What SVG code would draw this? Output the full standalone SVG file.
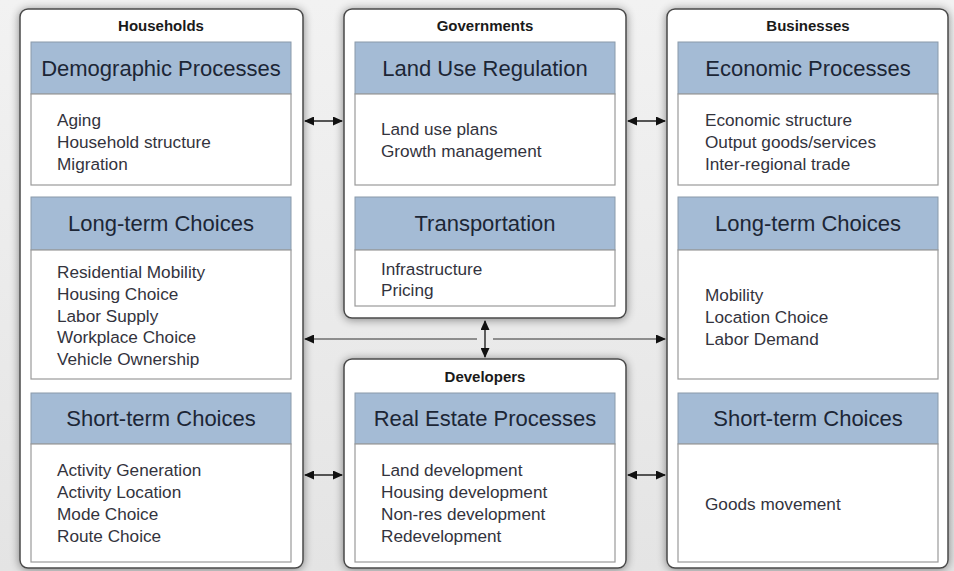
<svg xmlns="http://www.w3.org/2000/svg" width="954" height="571" viewBox="0 0 954 571">
<defs>
<filter id="sh" x="-10%" y="-10%" width="120%" height="120%">
<feGaussianBlur in="SourceAlpha" stdDeviation="5"/>
<feOffset dx="0" dy="1" result="b"/>
<feComponentTransfer><feFuncA type="linear" slope="0.45"/></feComponentTransfer>
<feMerge><feMergeNode/><feMergeNode in="SourceGraphic"/></feMerge>
</filter>
<marker id="ah" viewBox="0 0 10 10" refX="9" refY="5" markerWidth="10" markerHeight="9" markerUnits="userSpaceOnUse" orient="auto-start-reverse" preserveAspectRatio="none">
<path d="M0,0 L10,5 L0,10 z" fill="#111"/>
</marker>
<linearGradient id="bg" x1="0" y1="0" x2="0" y2="1">
<stop offset="0" stop-color="#f2f2f2"/>
<stop offset="1" stop-color="#e4e4e4"/>
</linearGradient>
</defs>
<style>
.outer{fill:#fff;stroke:#4a4a4a;stroke-width:1.5}
.hdr{fill:#a4bbd5;stroke:#8a9aaa;stroke-width:1}
.body{fill:#fff;stroke:#9a9a9a;stroke-width:1.2}
.title{font-family:"Liberation Sans",Arial,sans-serif;font-weight:bold;font-size:15px;fill:#1a1a1a;text-anchor:middle}
.htxt{font-family:"Liberation Sans",Arial,sans-serif;font-size:22px;fill:#1c2636;text-anchor:middle}
.btxt{font-family:"Liberation Sans",Arial,sans-serif;font-size:17.2px;fill:#33333d}
.con{stroke:#222;stroke-width:1.4;fill:none;marker-start:url(#ah);marker-end:url(#ah)}
.line{stroke:#333;stroke-width:1.2;fill:none}
</style>
<rect x="0" y="0" width="954" height="571" fill="url(#bg)"/>

<g id="households">
<rect class="outer" x="20" y="9" width="283" height="559" rx="8" filter="url(#sh)"/>
<text class="title" x="161" y="31">Households</text>
<rect class="hdr" x="31" y="42" width="260" height="52"/>
<text class="htxt" x="161" y="76">Demographic Processes</text>
<rect class="body" x="31" y="94" width="260" height="91"/>
<text class="btxt" x="57" y="126">Aging</text>
<text class="btxt" x="57" y="148">Household structure</text>
<text class="btxt" x="57" y="170">Migration</text>
<rect class="hdr" x="31" y="197" width="260" height="53"/>
<text class="htxt" x="161" y="231">Long-term Choices</text>
<rect class="body" x="31" y="250" width="260" height="129"/>
<text class="btxt" x="57" y="278">Residential Mobility</text>
<text class="btxt" x="57" y="300">Housing Choice</text>
<text class="btxt" x="57" y="322">Labor Supply</text>
<text class="btxt" x="57" y="343">Workplace Choice</text>
<text class="btxt" x="57" y="365">Vehicle Ownership</text>
<rect class="hdr" x="31" y="393" width="260" height="51"/>
<text class="htxt" x="161" y="426">Short-term Choices</text>
<rect class="body" x="31" y="444" width="260" height="118"/>
<text class="btxt" x="57" y="476">Activity Generation</text>
<text class="btxt" x="57" y="498">Activity Location</text>
<text class="btxt" x="57" y="520">Mode Choice</text>
<text class="btxt" x="57" y="542">Route Choice</text>
</g>

<g id="governments">
<rect class="outer" x="344" y="9" width="282" height="309" rx="8" filter="url(#sh)"/>
<text class="title" x="485" y="31">Governments</text>
<rect class="hdr" x="355" y="42" width="260" height="52"/>
<text class="htxt" x="485" y="76">Land Use Regulation</text>
<rect class="body" x="355" y="94" width="260" height="91"/>
<text class="btxt" x="381" y="135">Land use plans</text>
<text class="btxt" x="381" y="157">Growth management</text>
<rect class="hdr" x="355" y="197" width="260" height="53"/>
<text class="htxt" x="485" y="231">Transportation</text>
<rect class="body" x="355" y="250" width="260" height="56"/>
<text class="btxt" x="381" y="275">Infrastructure</text>
<text class="btxt" x="381" y="296">Pricing</text>
</g>

<g id="developers">
<rect class="outer" x="344" y="359" width="282" height="209" rx="8" filter="url(#sh)"/>
<text class="title" x="485" y="382">Developers</text>
<rect class="hdr" x="355" y="393" width="260" height="51"/>
<text class="htxt" x="485" y="426">Real Estate Processes</text>
<rect class="body" x="355" y="444" width="260" height="118"/>
<text class="btxt" x="381" y="476">Land development</text>
<text class="btxt" x="381" y="498">Housing development</text>
<text class="btxt" x="381" y="520">Non-res development</text>
<text class="btxt" x="381" y="542">Redevelopment</text>
</g>

<g id="businesses">
<rect class="outer" x="667" y="9" width="281" height="559" rx="8" filter="url(#sh)"/>
<text class="title" x="808" y="31">Businesses</text>
<rect class="hdr" x="678" y="42" width="260" height="52"/>
<text class="htxt" x="808" y="76">Economic Processes</text>
<rect class="body" x="678" y="94" width="260" height="91"/>
<text class="btxt" x="705" y="126">Economic structure</text>
<text class="btxt" x="705" y="148">Output goods/services</text>
<text class="btxt" x="705" y="170">Inter-regional trade</text>
<rect class="hdr" x="678" y="197" width="260" height="53"/>
<text class="htxt" x="808" y="231">Long-term Choices</text>
<rect class="body" x="678" y="250" width="260" height="129"/>
<text class="btxt" x="705" y="301">Mobility</text>
<text class="btxt" x="705" y="323">Location Choice</text>
<text class="btxt" x="705" y="345">Labor Demand</text>
<rect class="hdr" x="678" y="393" width="260" height="51"/>
<text class="htxt" x="808" y="426">Short-term Choices</text>
<rect class="body" x="678" y="444" width="260" height="118"/>
<text class="btxt" x="705" y="510">Goods movement</text>
</g>

<g id="connectors">
<line class="con" x1="305" y1="121" x2="342" y2="121"/>
<line class="con" x1="628" y1="121" x2="665" y2="121"/>
<line class="con" x1="305" y1="475" x2="342" y2="475"/>
<line class="con" x1="628" y1="475" x2="665" y2="475"/>
<line class="con" x1="485" y1="321" x2="485" y2="357"/>
<line class="line" x1="477" y1="339" x2="310" y2="339"/>
<line x1="313" y1="339" x2="305" y2="339" stroke="#222" marker-end="url(#ah)"/>
<line class="line" x1="493" y1="339" x2="658" y2="339"/>
<line x1="657" y1="339" x2="665" y2="339" stroke="#222" marker-end="url(#ah)"/>
</g>
</svg>
